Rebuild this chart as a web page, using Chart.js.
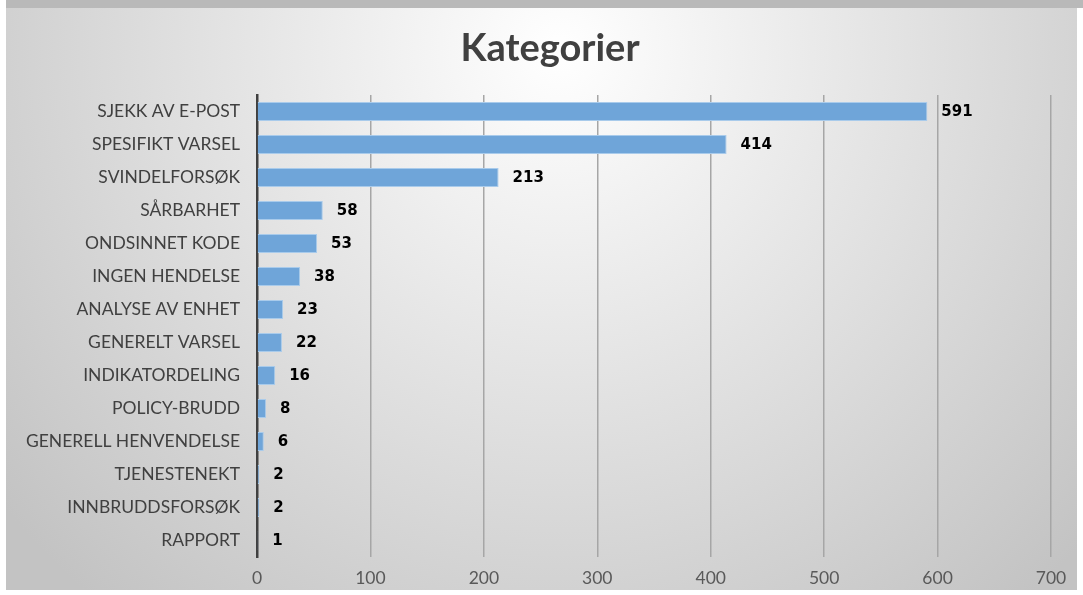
<!DOCTYPE html>
<html>
<head>
<meta charset="utf-8">
<script src="https://cdn.jsdelivr.net/npm/chart.js@4/dist/chart.umd.min.js"></script>
<style>
  body { margin: 0; background: #fff; }
  #wrap { width: 1083px; height: 595px; position: relative; }
</style>
</head>
<body>
<div id="wrap"><canvas id="Chart" width="1083" height="595"></canvas></div>
<script>
const categories = [
  "SJEKK AV E-POST",
  "SPESIFIKT VARSEL",
  "SVINDELFORSØK",
  "SÅRBARHET",
  "ONDSINNET KODE",
  "INGEN HENDELSE",
  "ANALYSE AV ENHET",
  "GENERELT VARSEL",
  "INDIKATORDELING",
  "POLICY-BRUDD",
  "GENERELL HENVENDELSE",
  "TJENESTENEKT",
  "INNBRUDDSFORSØK",
  "RAPPORT",
];
const counts = [591, 414, 213, 58, 53, 38, 23, 22, 16, 8, 6, 2, 2, 1];
const titleText = "Kategorier";

// background panel + title
const backdrop = {
  id: "backdrop",
  beforeDraw(chart) {
    const c = chart.ctx;
    c.save();
    c.fillStyle = "#ffffff";
    c.fillRect(0, 0, chart.width, chart.height);
    c.fillStyle = "#b9b9b9";
    c.fillRect(6, 0, chart.width - 6, 8);
    let g = c.createRadialGradient(560, 50, 0, 560, 50, 720);
    g.addColorStop(0, "#ffffff");
    g.addColorStop(1, "#c3c3c3");
    c.fillStyle = g;
    c.fillRect(6, 8, 1071, 582);
    c.fillStyle = "#404040";
    c.font = "bold 38px Lato";
    c.textAlign = "center";
    c.textBaseline = "middle";
    c.fillText(titleText, 550, 49);
    c.restore();
  },
};

// value labels at the end of each bar
const valueLabels = {
  id: "valueLabels",
  afterDatasetsDraw(chart) {
    const c = chart.ctx;
    const meta = chart.getDatasetMeta(0);
    c.save();
    c.fillStyle = "#000000";
    c.font = "bold 15px 'DejaVu Sans'";
    c.textBaseline = "middle";
    meta.data.forEach((bar, i) => {
      c.fillText(String(counts[i]), bar.x + 14, bar.y + 1);
    });
    c.restore();
  },
};

let ctx = document.getElementById("Chart").getContext("2d");
let myChart = new Chart(ctx, {
  type: "bar",
  data: {
    labels: categories,
    datasets: [
      {
        label: "Antall",
        data: counts,
        backgroundColor: "#6fa5d9",
        borderColor: "#a9cbeb",
        borderWidth: 1,
        barPercentage: 0.58,
        categoryPercentage: 1,
      },
    ],
  },
  options: {
    indexAxis: "y",
    responsive: false,
    animation: false,
    layout: { padding: { left: 6, right: 32, top: 95, bottom: 0 } },
    plugins: {
      legend: { display: false },
      tooltip: { enabled: false },
      title: { display: false },
    },
    scales: {
      x: {
        min: 0,
        max: 700,
        afterFit(scale) {
          scale.height = 38;
        },
        ticks: {
          stepSize: 100,
          padding: 11,
          color: "#595959",
          font: { family: "Lato", size: 17.5 },
        },
        grid: { color: "#a6a6a6", lineWidth: 1.5, drawTicks: false },
        border: { display: false },
      },
      y: {
        afterFit(scale) {
          scale.width = 251;
        },
        ticks: {
          padding: 17,
          color: "#404040",
          font: { family: "Lato", size: 17.5 },
        },
        grid: { display: false, drawTicks: false },
        border: { display: true, color: "#404040", width: 2.5 },
      },
    },
  },
  plugins: [backdrop, valueLabels],
});
</script>
</body>
</html>
